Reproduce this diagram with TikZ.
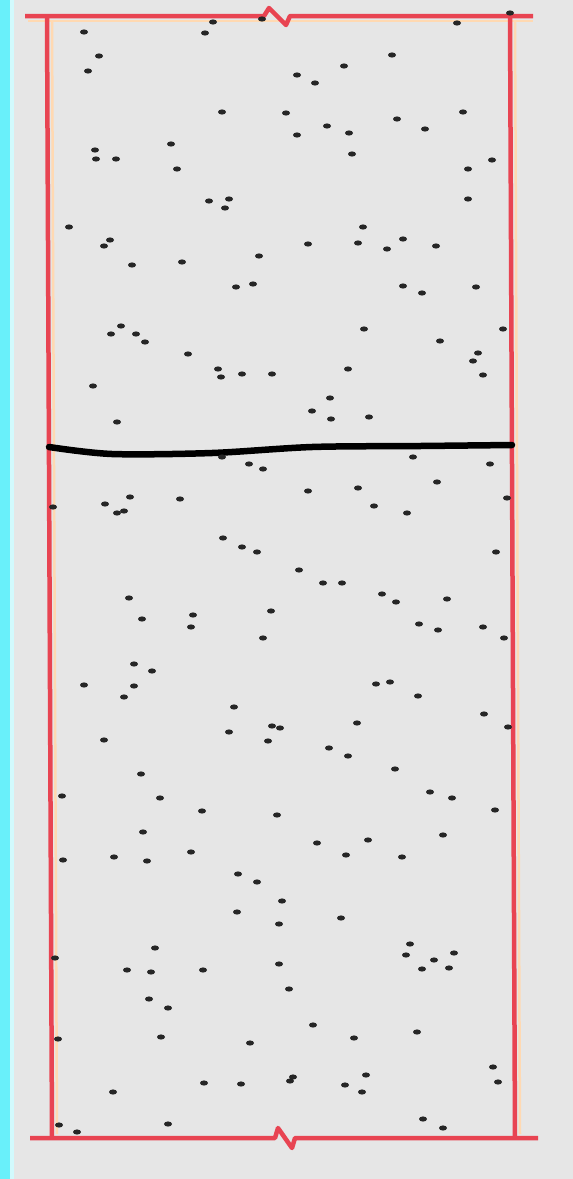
\documentclass[tikz,border=0pt]{standalone}
\usepackage{tikz}
\definecolor{wallred}{RGB}{232,68,82}
\definecolor{haze}{RGB}{230,230,230}
\definecolor{edgecyan}{RGB}{105,240,250}

\begin{document}
\begin{tikzpicture}[x=1pt,y=-1pt,
    wall/.style={wallred, line width=4.5pt, line join=round},
    glow/.style={orange!30, line width=2.5pt},
    interface/.style={black, line width=6.5pt, line cap=round},
    speck/.style={fill=black!85}]
  \useasboundingbox (0,0) rectangle (573,1179);
  % background and left edge
  \fill[haze] (0,0) rectangle (573,1179);
  \fill[edgecyan] (0,0) rectangle (10,1179);
  \fill[edgecyan!30] (10,0) rectangle (14,1179);

  % faint halo beside the walls
  \draw[glow] (52,20) -- (57,1134);
  \draw[glow] (515,20) -- (520,1134);
  \draw[glow] (28,21) -- (533,21);

  % walls with break marks
  \draw[wall] (25,16) -- (264,16) -- (269,8) -- (286,25) -- (290,16) -- (533,16);
  \draw[wall] (30,1138) -- (275,1138) -- (278,1128) -- (292,1148) -- (295,1138) -- (538,1138);
  \draw[wall] (47,16) -- (52,1138);
  \draw[wall] (510,16) -- (515,1138);

  % interface
  \draw[interface] plot[smooth] coordinates {(49,447) (112,454) (212,453) (312,447) (420,446) (512,445)};

  % particles
  \foreach \x/\y in {
    213/22, 262/19, 457/23, 84/32, 205/33, 99/56, 392/55, 344/66, 88/71,
    297/75, 315/83, 222/112, 286/113, 463/112, 397/119, 327/126, 425/129,
    297/135, 349/133, 171/144, 95/150, 96/159, 116/159, 352/154, 492/160,
    177/169, 468/169, 209/201, 229/199, 225/208, 468/199, 69/227, 363/227,
    110/240, 104/246, 403/239, 308/244, 358/243, 436/246, 387/249,
    132/265, 182/262, 259/256, 236/287, 253/284, 403/286, 422/293, 476/287,
    121/326, 111/334, 136/334, 145/342, 364/329, 503/329, 440/341, 478/353,
    473/361, 483/375, 188/354, 218/369, 221/377, 242/374, 272/374, 348/369,
    93/386, 330/398, 312/411, 331/419, 369/417, 117/422,
    222/457, 413/457, 249/464, 263/469, 490/464,
    437/482, 308/491, 358/488, 130/497, 180/499, 105/504, 117/513, 124/511,
    53/507, 507/498, 374/506, 407/513, 223/538, 242/547, 257/552, 496/552,
    299/570, 323/583, 342/583, 382/594, 396/602, 447/599, 129/598, 142/619,
    193/615, 191/627, 271/611, 263/638, 419/624, 438/630, 483/627, 504/638,
    134/664, 152/671, 84/685, 134/686, 124/697, 376/684, 390/682, 418/696,
    234/707, 484/714, 272/726, 280/728, 357/723, 229/732, 508/727, 104/740,
    268/741, 329/748, 348/756, 395/769, 141/774, 62/796, 160/798, 430/792,
    452/798, 202/811, 277/815, 495/810, 143/832, 317/843, 368/840, 443/835,
    191/852, 63/860, 114/857, 147/861, 346/855, 402/857, 238/874, 257/882,
    282/901, 237/912, 341/918, 279/924,
    155/948, 410/944, 406/955, 454/953, 434/960, 422/969, 449/968, 55/958,
    127/970, 151/972, 203/970, 279/964, 289/989, 149/999, 168/1008, 313/1025,
    417/1032, 58/1039, 161/1037, 250/1043, 354/1038, 493/1067, 498/1082,
    366/1075, 293/1077, 290/1081, 204/1083, 241/1084, 345/1085, 362/1092,
    113/1092, 423/1119, 443/1128, 168/1124, 59/1125, 77/1132, 510/13}
    \fill[speck] (\x,\y) ellipse (4pt and 2.6pt);
\end{tikzpicture}
\end{document}
